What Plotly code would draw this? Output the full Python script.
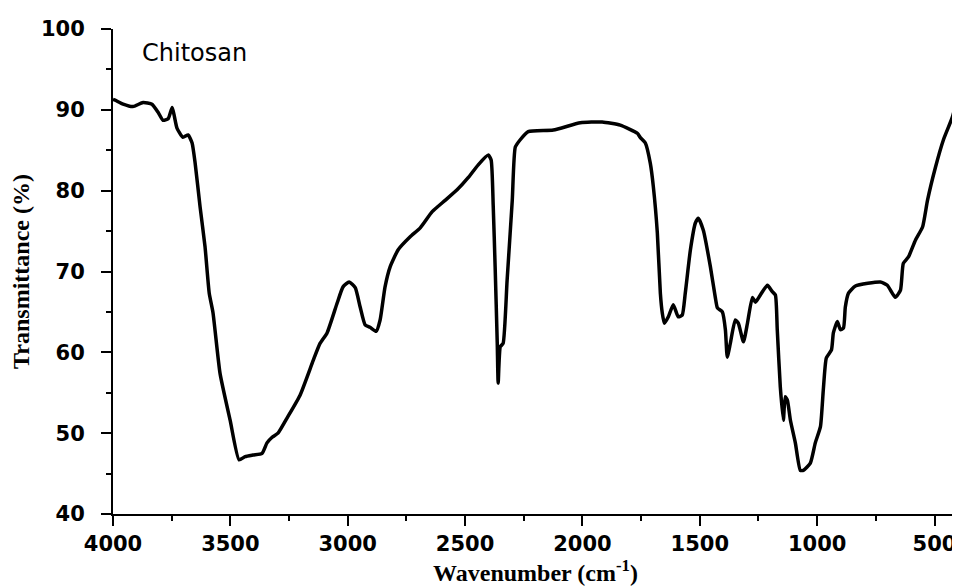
import plotly.graph_objects as go

wavenumber = [4000, 3991, 3957, 3915, 3872, 3834, 3808, 3787, 3765, 3748, 3740, 3727, 3702, 3680, 3663,
              3650, 3629, 3608, 3590, 3574, 3544, 3501, 3463, 3437, 3403, 3365, 3344, 3322, 3297, 3258,
              3203, 3147, 3118, 3088, 3045, 3020, 2994, 2968, 2947, 2926, 2905, 2879, 2862, 2841, 2819,
              2785, 2734, 2691, 2640, 2585, 2534, 2487, 2444, 2401, 2389, 2380, 2372, 2363, 2359, 2350,
              2338, 2321, 2299, 2286, 2265, 2231, 2124, 2009, 1916, 1839, 1766, 1754, 1732, 1711, 1698,
              1681, 1668, 1660, 1651, 1634, 1613, 1592, 1575, 1562, 1540, 1519, 1506, 1485, 1455, 1434,
              1425, 1404, 1391, 1383, 1370, 1349, 1336, 1314, 1297, 1276, 1263, 1242, 1212, 1191, 1178,
              1170, 1157, 1144, 1136, 1127, 1114, 1093, 1072, 1059, 1029, 1008, 986, 974, 961, 939,
              931, 914, 901, 888, 880, 867, 837, 731, 701, 667, 645, 633, 611, 581, 551,
              530, 496, 462, 424, 398]
transmittance = [91.3, 91.2, 90.7, 90.4, 90.9, 90.7, 89.7, 88.7, 88.9, 90.3, 89.4, 87.7, 86.6, 86.9, 85.9,
                 83.4, 78.0, 73.1, 67.3, 64.9, 57.4, 51.6, 46.7, 47.1, 47.3, 47.5, 48.8, 49.5, 50.0, 51.9,
                 54.7, 59.0, 61.1, 62.4, 66.1, 68.1, 68.7, 68.0, 65.6, 63.4, 63.1, 62.6, 64.0, 68.1, 70.6,
                 72.7, 74.3, 75.4, 77.4, 78.8, 80.1, 81.6, 83.2, 84.4, 83.8, 78.0, 70.6, 61.2, 56.2, 60.7,
                 61.1, 68.9, 78.8, 85.4, 86.3, 87.3, 87.5, 88.4, 88.5, 88.1, 87.1, 86.6, 85.9, 83.4, 80.5,
                 74.8, 67.3, 64.9, 63.6, 64.4, 65.9, 64.4, 64.6, 67.3, 72.7, 76.0, 76.6, 75.1, 70.6, 66.8,
                 65.5, 65.0, 62.8, 59.4, 61.1, 64.0, 63.6, 61.3, 63.6, 66.8, 66.2, 67.1, 68.3, 67.5, 67.1,
                 62.8, 55.7, 51.6, 54.5, 54.1, 51.6, 48.8, 45.4, 45.4, 46.3, 48.8, 50.8, 55.3, 59.3, 60.3,
                 62.4, 63.8, 62.8, 63.0, 65.6, 67.3, 68.2, 68.7, 68.3, 66.8, 67.7, 71.0, 71.8, 73.9, 75.5,
                 78.8, 82.9, 86.3, 89.1, 92.1]

x_tickvals = [4000, 3500, 3000, 2500, 2000, 1500, 1000, 500]
y_tickvals = [40, 50, 60, 70, 80, 90, 100]

sample_label = "Chitosan"
x_title = "Wavenumber (cm<sup>-1</sup>)"
y_title = "Transmittance (%)"

fig = go.Figure()
fig.add_trace(go.Scatter(x=wavenumber, y=transmittance, mode="lines",
                         line=dict(color="black", width=3.5, shape="spline", smoothing=0.5),
                         showlegend=False))

tickfont = dict(family="DejaVu Sans", size=21, color="black", weight="bold")
titlefont = dict(family="Liberation Serif", size=24, color="black", weight="bold")

fig.update_xaxes(range=[4000, 400], tickvals=x_tickvals, ticks="outside", ticklen=10, tickwidth=2,
                 tickcolor="black", showline=True, linecolor="black", linewidth=2, showgrid=False,
                 zeroline=False, tickfont=tickfont, automargin=False,
                 minor=dict(dtick=250, tick0=0, ticks="outside", ticklen=5, tickwidth=2, tickcolor="black", showgrid=False),
                 title=dict(text=x_title, font=titlefont, standoff=10))
fig.update_yaxes(range=[40, 100], tickvals=y_tickvals, ticks="outside", ticklen=10, tickwidth=2,
                 tickcolor="black", showline=True, linecolor="black", linewidth=2, showgrid=False,
                 zeroline=False, tickfont=tickfont, automargin=False, ticklabelstandoff=12,
                 minor=dict(dtick=5, tick0=0, ticks="outside", ticklen=5, tickwidth=2, tickcolor="black", showgrid=False),
                 title=dict(text=y_title, font=titlefont, standoff=10))

fig.add_annotation(x=3885, y=97, text=sample_label, showarrow=False, xanchor="left", yanchor="middle",
                   font=dict(family="DejaVu Sans", size=24, color="black"))

fig.update_layout(width=952, height=578, margin=dict(l=105, r=2, t=21, b=72),
                  plot_bgcolor="white", paper_bgcolor="white")

fig.write_html("out.html")
